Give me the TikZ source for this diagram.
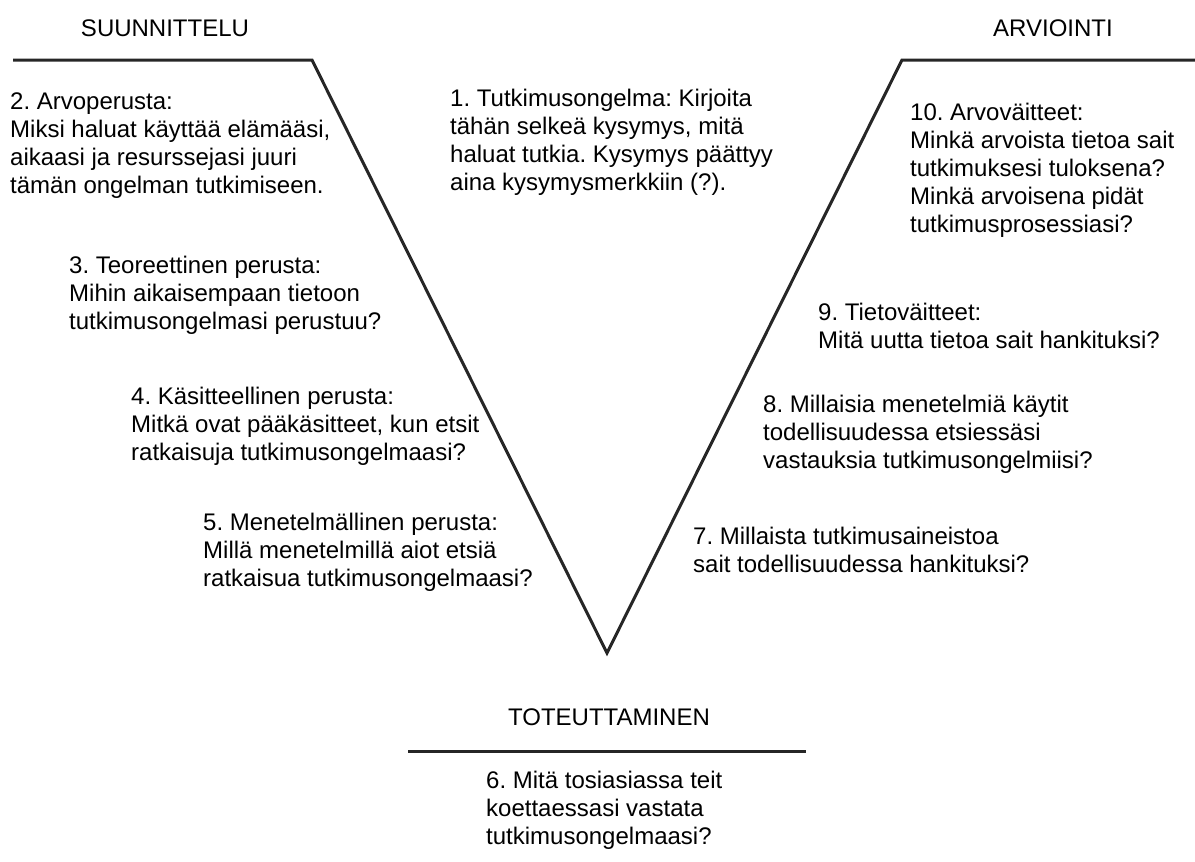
\documentclass[tikz,border=0pt]{standalone}
\usepackage{fontspec}
\setmainfont{Liberation Sans}
\begin{document}
\frenchspacing
\begin{tikzpicture}[x=1pt,y=-1pt,
  vline/.style={line width=3pt,draw=black!85,line join=miter},
  txt/.style={font=\fontsize{24}{28}\selectfont,align=left,inner sep=0pt,anchor=north west},
  head/.style={font=\fontsize{24}{28}\selectfont,inner sep=0pt,anchor=base}]
\useasboundingbox (0,0) rectangle (1195,862);
% V shape
\coordinate (lstart) at (13,60);
\coordinate (lcorner) at (312,60);
\coordinate (apex) at (607,653);
\coordinate (rcorner) at (902,60);
\coordinate (rend) at (1195,60);
\draw[vline] (lstart) -- (lcorner) -- (apex) -- (rcorner) -- (rend);
\coordinate (bstart) at (408,751);
\coordinate (bend) at (806,751);
\draw[vline] (bstart) -- (bend);
% headings
\node[head] (suun) at (165,36) {SUUNNITTELU};
\node[head] (arvi) at (1053,36) {ARVIOINTI};
\node[head] (tote) at (609,725) {TOTEUTTAMINEN};
% blocks
\node[txt] (b1) at (450,86.6) {\strut 1. Tutkimusongelma: Kirjoita\\t\"ah\"an selke\"a kysymys, mit\"a\\haluat tutkia. Kysymys p\"a\"attyy\\aina kysymysmerkkiin (?).};
\node[txt] (b2) at (10,89.6) {\strut 2. Arvoperusta:\\Miksi haluat k\"aytt\"a\"a el\"am\"a\"asi,\\aikaasi ja resurssejasi juuri\\t\"am\"an ongelman tutkimiseen.};
\node[txt] (b3) at (69,254) {\strut 3. Teoreettinen perusta:\\Mihin aikaisempaan tietoon\\tutkimusongelmasi perustuu?};
\node[txt] (b4) at (131,384.6) {\strut 4. K\"asitteellinen perusta:\\Mitk\"a ovat p\"a\"ak\"asitteet, kun etsit\\ratkaisuja tutkimusongelmaasi?};
\node[txt] (b5) at (203,510.6) {\strut 5. Menetelm\"allinen perusta:\\Mill\"a menetelmill\"a aiot etsi\"a\\ratkaisua tutkimusongelmaasi?};
\node[txt] (b6) at (486,768.6) {\strut 6. Mit\"a tosiasiassa teit\\koettaessasi vastata\\tutkimusongelmaasi?};
\node[txt] (b7) at (693,524.6) {\strut 7. Millaista tutkimusaineistoa\\sait todellisuudessa hankituksi?};
\node[txt] (b8) at (763,392.6) {\strut 8. Millaisia menetelmi\"a k\"aytit\\todellisuudessa etsiess\"asi\\vastauksia tutkimusongelmiisi?};
\node[txt] (b9) at (818,300.6) {\strut 9. Tietov\"aitteet:\\Mit\"a uutta tietoa sait hankituksi?};
\node[txt] (b10) at (910,100.6) {\strut 10. Arvov\"aitteet:\\Mink\"a arvoista tietoa sait\\tutkimuksesi tuloksena?\\Mink\"a arvoisena pid\"at\\tutkimusprosessiasi?};
\end{tikzpicture}
\end{document}
